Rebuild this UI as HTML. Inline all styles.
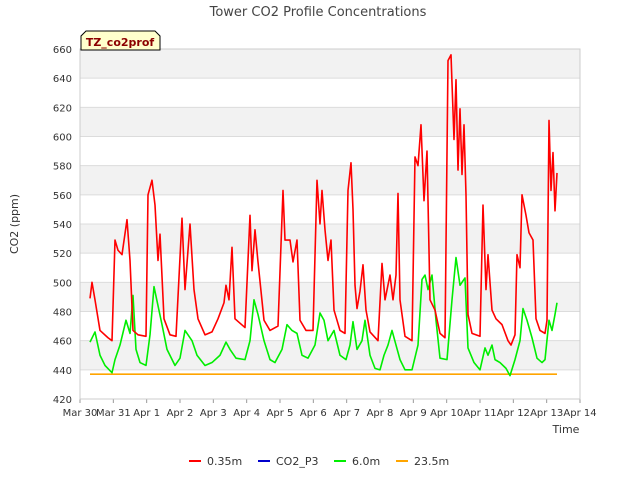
<!DOCTYPE html>
<html><head><meta charset="utf-8"><style>
body{margin:0;background:#fff;font-family:"Liberation Sans","DejaVu Sans",sans-serif;}
svg text{font-family:"DejaVu Sans","Liberation Sans",sans-serif;}
</style></head><body>
<svg id="chart" width="640" height="480" xmlns="http://www.w3.org/2000/svg">
<text x="318" y="16" font-size="13" fill="#444" text-anchor="middle">Tower CO2 Profile Concentrations</text>
<g id="plot"></g>
<text transform="translate(18,224) rotate(-90)" font-size="11" fill="#333" text-anchor="middle">CO2 (ppm)</text>
<text x="566" y="433" font-size="11" fill="#333" text-anchor="middle">Time</text>
<g>
<path d="M81,50 L81,36 L86,31 L155,31 L160,36 L160,50 Z" fill="#ffffcc" stroke="#000" stroke-width="1"/>
<text x="120" y="46" font-size="11" font-weight="bold" fill="#8b0000" text-anchor="middle">TZ_co2prof</text>
</g>
<g id="legend"></g>
</svg>
<script>
const yTicks=[420,440,460,480,500,520,540,560,580,600,620,640,660];
const xTickLabels=["Mar 30","Mar 31","Apr 1","Apr 2","Apr 3","Apr 4","Apr 5","Apr 6","Apr 7","Apr 8","Apr 9","Apr 10","Apr 11","Apr 12","Apr 13","Apr 14"];
const redT=[0.30,0.36,0.45,0.60,0.84,0.96,1.05,1.14,1.26,1.41,1.50,1.59,1.74,1.98,2.04,2.16,2.25,2.34,2.40,2.52,2.70,2.88,3.06,3.15,3.30,3.42,3.54,3.75,3.96,4.14,4.32,4.38,4.47,4.56,4.65,4.95,5.10,5.16,5.25,5.34,5.52,5.70,5.94,6.09,6.15,6.30,6.39,6.51,6.60,6.78,6.99,7.11,7.20,7.26,7.35,7.44,7.53,7.62,7.80,7.95,8.04,8.13,8.19,8.25,8.31,8.40,8.49,8.58,8.70,8.94,9.06,9.15,9.30,9.39,9.48,9.54,9.60,9.75,9.96,10.05,10.14,10.23,10.32,10.41,10.50,10.65,10.80,10.95,11.04,11.13,11.22,11.28,11.34,11.40,11.46,11.52,11.58,11.64,11.76,12.00,12.09,12.18,12.24,12.36,12.48,12.66,12.84,12.93,13.05,13.11,13.20,13.26,13.38,13.47,13.59,13.68,13.80,13.95,14.01,14.07,14.13,14.19,14.25,14.31];
const redV=[489,500,488,467,462,460,529,522,519,543,515,467,464,463,560,570,553,515,533,475,464,463,544,495,540,495,475,464,466,475,486,498,488,524,475,469,546,508,536,514,474,467,470,563,529,529,514,529,474,467,467,570,540,563,536,515,529,481,467,465,563,582,550,498,482,494,512,481,466,460,513,488,505,488,505,561,488,463,460,586,580,608,556,590,488,481,465,462,652,656,598,639,577,619,574,608,560,478,465,463,553,495,519,481,475,471,460,457,464,519,510,560,546,534,529,475,467,465,474,611,563,589,549,575];
const greenT=[0.30,0.45,0.60,0.75,0.96,1.05,1.20,1.38,1.50,1.59,1.68,1.80,1.98,2.10,2.22,2.34,2.46,2.61,2.85,3.00,3.15,3.36,3.51,3.75,3.96,4.20,4.38,4.50,4.68,4.95,5.10,5.22,5.34,5.52,5.70,5.85,6.06,6.21,6.36,6.51,6.66,6.84,7.05,7.20,7.32,7.44,7.62,7.65,7.80,7.98,8.10,8.19,8.31,8.46,8.55,8.70,8.85,9.00,9.12,9.24,9.36,9.48,9.60,9.75,9.96,10.14,10.26,10.35,10.44,10.56,10.68,10.80,11.01,11.16,11.28,11.40,11.55,11.64,11.82,12.00,12.15,12.24,12.36,12.45,12.60,12.78,12.90,13.05,13.20,13.29,13.41,13.56,13.71,13.86,13.95,14.07,14.16,14.25,14.31];
const greenV=[459,466,450,443,438,447,457,474,465,491,454,445,443,464,497,484,471,454,443,448,467,460,450,443,445,450,459,454,448,447,460,488,478,460,447,445,454,471,467,465,450,448,457,479,474,460,467,464,450,447,457,473,454,460,474,450,441,440,450,457,467,457,447,440,440,457,502,505,495,505,474,448,447,488,517,498,503,455,445,440,455,450,457,447,445,441,436,447,460,482,474,462,448,445,447,474,467,478,486];
const orangeT=[0.30,14.31];
const orangeV=[437,437];
const X0=80,X1=580,Y0=399,Y1=49;
const xs=t=>X0+(t/15)*(X1-X0);
const ys=v=>Y0-(v-420)/240*(Y0-Y1);
const NS="http://www.w3.org/2000/svg";
const plot=document.getElementById('plot');
function mk(tag,attrs,parent){const e=document.createElementNS(NS,tag);for(const k in attrs)e.setAttribute(k,attrs[k]);(parent||plot).appendChild(e);return e;}
mk('rect',{x:X0,y:Y1,width:X1-X0,height:Y0-Y1,fill:'#fff'});
for(let i=0;i<yTicks.length-1;i++){
  if(i%2===1){const b=mk('rect',{x:X0,y:ys(yTicks[i+1]),width:X1-X0,height:ys(yTicks[i])-ys(yTicks[i+1]),fill:'#f2f2f2'});
  
  }
}
yTicks.forEach(v=>{
  const l=mk('line',{x1:X0,x2:X1,y1:ys(v),y2:ys(v),stroke:'#dcdcdc','stroke-width':1});
  
  
  const t=mk('text',{x:X0-8,y:ys(v)+4,'font-size':10,fill:'#333','text-anchor':'end'});
  
  
  t.textContent=v;
});
xTickLabels.forEach((s,i)=>{
  const t=mk('text',{x:xs(i),y:Y0+17,'font-size':10,fill:'#333','text-anchor':'middle'});
  
  
  t.textContent=s;
  const tk=mk('line',{x1:xs(i),x2:xs(i),y1:Y0,y2:Y0+4,stroke:'#999'});
  
  
});
mk('rect',{x:X0,y:Y1,width:X1-X0,height:Y0-Y1,fill:'none',stroke:'#ccc'});
function series(T,V,color,name){
  const p=mk('polyline',{points:T.map((t,i)=>xs(t)+','+ys(V[i])).join(' '),fill:'none',stroke:color,'stroke-width':1.6,'stroke-linejoin':'round'});
  
  
}
series(orangeT,orangeV,'#ffa500','series-23-5m');
series(greenT,greenV,'#00ee00','series-6-0m');
series(redT,redV,'#ff0000','series-0-35m');
const leg=document.getElementById('legend');
const entries=[["0.35m","#ff0000",189],["CO2_P3","#0000cc",258],["6.0m","#00ee00",334],["23.5m","#ffa500",396]];
entries.forEach(e=>{
  const g=mk('g',{},leg);
  
  
  mk('line',{x1:e[2],x2:e[2]+12,y1:461,y2:461,stroke:e[1],'stroke-width':2},g);
  const t=mk('text',{x:e[2]+18,y:465,'font-size':11,fill:'#333'},g);
  t.textContent=e[0];
});
</script>
</body></html>
